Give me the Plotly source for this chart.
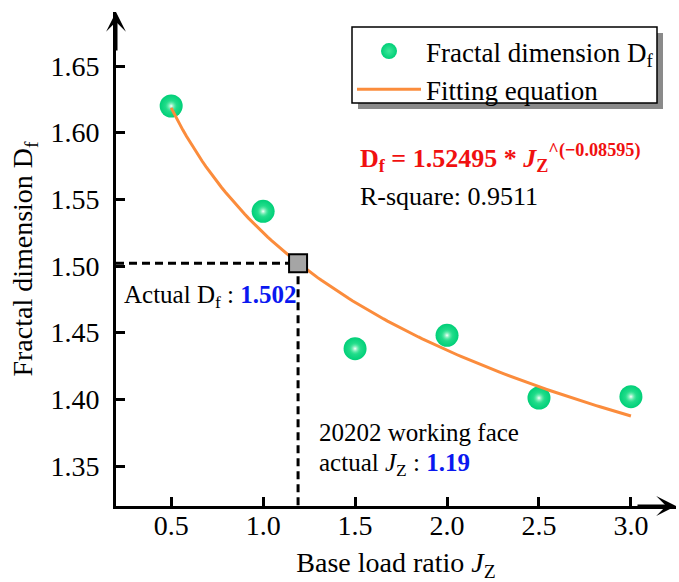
import numpy as np
import plotly.graph_objects as go

# Measured fractal dimension for each base load ratio
jz = [0.5, 1.0, 1.5, 2.0, 2.5, 3.0]
df_vals = [1.620, 1.541, 1.438, 1.448, 1.401, 1.402]

# Power-law fit D_f = a * J_Z ^ b
fit_a = 1.52495
fit_b = -0.08595
fit_x = np.linspace(0.5, 3.0, 120)
fit_y = fit_a * fit_x ** fit_b

# Working-face reading
actual_jz = 1.19
actual_df = 1.502

x_range = [0.2, 3.245]
y_range = [1.32, 1.6905]
x_ticks = [0.5, 1.0, 1.5, 2.0, 2.5, 3.0]
y_ticks = [1.35, 1.40, 1.45, 1.50, 1.55, 1.60, 1.65]

FONT = "Times New Roman, Liberation Serif, DejaVu Serif, serif"
GREEN = "#00cf78"

fig = go.Figure()

# Dashed guides from the axes to the working-face point
fig.add_trace(go.Scatter(
    x=[x_range[0], actual_jz], y=[actual_df, actual_df], mode="lines",
    line=dict(color="black", width=3, dash="8px,5px"), showlegend=False, hoverinfo="skip"))
fig.add_trace(go.Scatter(
    x=[actual_jz, actual_jz], y=[actual_df, y_range[0]], mode="lines",
    line=dict(color="black", width=3, dash="8px,5px"), showlegend=False, hoverinfo="skip"))

# Spheres: solid body plus a small glossy highlight
fig.add_trace(go.Scatter(
    x=jz, y=df_vals, mode="markers", name="Fractal dimension D<sub>f</sub>",
    marker=dict(size=23, color=GREEN, line=dict(width=0),
                gradient=dict(type="radial", color="#3fe89a"))))
fig.add_trace(go.Scatter(
    x=jz, y=df_vals, mode="markers", showlegend=False, hoverinfo="skip",
    marker=dict(size=12, color="rgba(60,230,150,0)", line=dict(width=0),
                gradient=dict(type="radial", color="#ffffff"))))

# Fitted curve
fig.add_trace(go.Scatter(
    x=fit_x, y=fit_y, mode="lines", name="Fitting equation",
    line=dict(color="#fb8c3c", width=3)))

# Working-face point
fig.add_trace(go.Scatter(
    x=[actual_jz], y=[actual_df], mode="markers", showlegend=False,
    marker=dict(symbol="square", size=18, color="#a5a5a5",
                line=dict(color="black", width=2))))

axis_common = dict(
    showline=True, linecolor="black", linewidth=3, mirror=False,
    ticks="inside", ticklen=9, tickwidth=3, tickcolor="black",
    showgrid=False, zeroline=False,
    tickfont=dict(family=FONT, size=28, color="black"),
)

fig.update_xaxes(range=x_range, tickvals=x_ticks, ticktext=[f"{v:.1f}" for v in x_ticks],
                 ticklabelstandoff=-8,
                 title=dict(text="Base load ratio <i>J</i><sub>Z</sub>", standoff=14,
                            font=dict(family=FONT, size=28, color="black")),
                 **axis_common)
fig.update_yaxes(range=y_range, tickvals=y_ticks, ticktext=[f"{v:.2f}" for v in y_ticks],
                 ticklabelstandoff=8,
                 title=dict(text="Fractal dimension D<sub>f</sub>", standoff=10,
                            font=dict(family=FONT, size=28, color="black")),
                 **axis_common)

# Legend frame with drop shadow (paper coordinates)
PW, PH = 560, 494
lx0, lx1 = (352 - 116) / PW, (657 - 116) / PW
ly0, ly1 = (506 - 103) / PH, (506 - 27) / PH
sx, sy = 6 / PW, 6 / PH
fig.add_shape(type="rect", xref="paper", yref="paper",
              x0=lx0 + sx, x1=lx1 + sx, y0=ly0 - sy, y1=ly1 - sy,
              fillcolor="#8a8a8a", line=dict(width=0), layer="above")
fig.add_shape(type="rect", xref="paper", yref="paper",
              x0=lx0, x1=lx1, y0=ly0, y1=ly1,
              fillcolor="white", line=dict(color="black", width=1.5), layer="above")

# Axis arrowheads
for (x, y, ax, ay) in [(1, 0, -40, 0), (0, 1, 0, 40)]:
    fig.add_annotation(x=x, y=y, xref="paper", yref="paper", ax=ax, ay=ay,
                       axref="pixel", ayref="pixel", text="", showarrow=True,
                       arrowhead=3, arrowsize=1.1, arrowwidth=3, arrowcolor="black",
                       standoff=0)

note_font = dict(family=FONT, size=25, color="black")
fig.add_annotation(x=0.234, y=1.477, xref="x", yref="y", xanchor="left", yanchor="middle",
                   showarrow=False, font=note_font,
                   text=f"Actual D<sub>f</sub> : <b><span style='color:#0a18f0'>{actual_df:.3f}</span></b>")
fig.add_annotation(x=1.293, y=1.3748, xref="x", yref="y", xanchor="left", yanchor="middle",
                   showarrow=False, font=note_font, text="20202 working face")
fig.add_annotation(x=1.293, y=1.3508, xref="x", yref="y", xanchor="left", yanchor="middle",
                   showarrow=False, font=note_font,
                   text=f"actual <i>J</i><sub>Z</sub> : <b><span style='color:#0a18f0'>{actual_jz:.2f}</span></b>")
fig.add_annotation(x=1.516, y=1.5812, xref="x", yref="y", xanchor="left", yanchor="middle",
                   showarrow=False, font=dict(family=FONT, size=26, color="#f01010"),
                   text=f"<b>D<sub>f</sub> = {fit_a} * <i>J</i><sub>Z</sub><sup>^(\u2212{abs(fit_b)})</sup></b>")
fig.add_annotation(x=1.516, y=1.552, xref="x", yref="y", xanchor="left", yanchor="middle",
                   showarrow=False, font=dict(family=FONT, size=26, color="black"),
                   text="R-square: 0.9511")

fig.update_layout(
    width=679, height=582,
    margin=dict(l=116, r=3, t=12, b=76),
    paper_bgcolor="white", plot_bgcolor="white",
    font=dict(family=FONT),
    legend=dict(x=lx0, y=ly1, xanchor="left", yanchor="top",
                bgcolor="rgba(0,0,0,0)", borderwidth=0, itemwidth=64,
                font=dict(family=FONT, size=27, color="black")),
)

fig.write_html("out.html")
